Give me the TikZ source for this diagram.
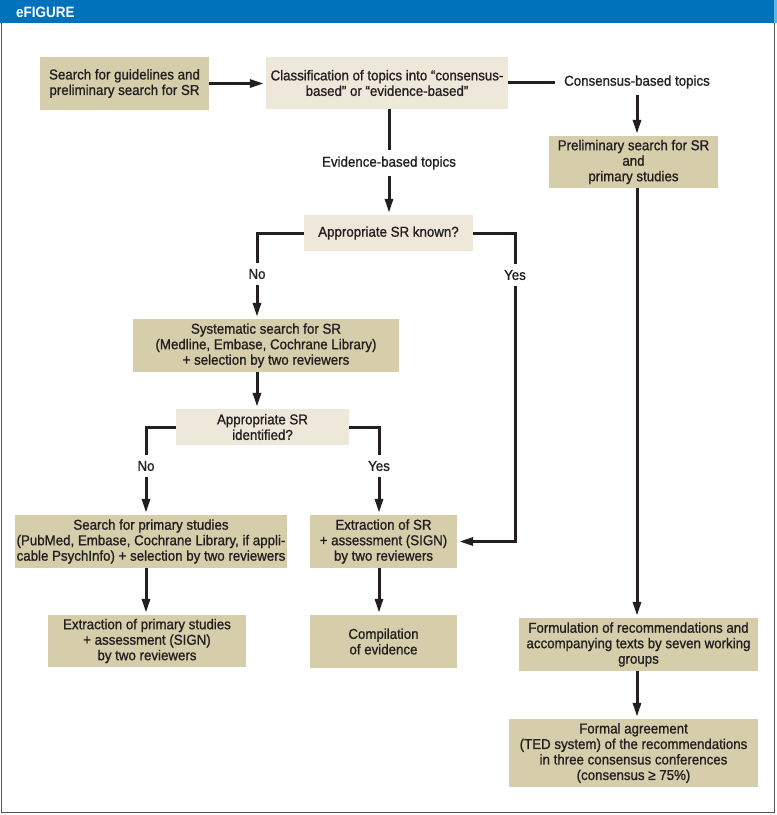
\documentclass[tikz,border=0pt]{standalone}
\usepackage{fontspec}
\setmainfont{Liberation Sans}
\newfontfamily\bodyfam[FakeBold=1.0,FakeStretch=0.93]{Liberation Sans}
\newfontfamily\hdrfont[FakeStretch=0.9]{Liberation Sans}
\usetikzlibrary{arrows.meta}
\definecolor{darkbox}{HTML}{D6CDAA}
\definecolor{lightbox}{HTML}{EEE8DA}
\definecolor{hblue}{HTML}{0072BB}
\definecolor{hlight}{HTML}{5DB7E6}
\definecolor{ink}{HTML}{231F20}
\definecolor{framegray}{HTML}{555555}
\newcommand{\bodyfont}{\bodyfam\fontsize{14.3}{15.5}\selectfont}
\begin{document}
\begin{tikzpicture}[x=1pt,y=-1pt,
  box/.style={fill=darkbox, inner sep=0pt, align=center, text=ink, font=\bodyfont},
  lbox/.style={fill=lightbox, inner sep=0pt, align=center, text=ink, font=\bodyfont},
  lbl/.style={inner xsep=9pt, inner ysep=6pt, align=center, text=ink, font=\bodyfont},
  conn/.style={draw=ink, line width=3pt},
  arr/.style={conn, -{Triangle[length=14pt,width=8pt]}, shorten >=2pt}]
\useasboundingbox (0,0) rectangle (777,815);
\fill[hblue] (0,0) rectangle (777,23);
\fill[hlight] (774,0) rectangle (777,23);
\draw[framegray, line width=1.5pt] (1.7,23) -- (1.7,812.5) -- (774.5,812.5) -- (774.5,23);
\node[anchor=west, text=white, font=\hdrfont\bfseries\fontsize{15}{15}\selectfont, inner sep=0pt] (hdr) at (16,12.5) {eFIGURE};

\node[box, minimum width=169, minimum height=53] (A) at (124.5,83.5) {Search for guidelines and\\preliminary search for SR};
\node[lbox, minimum width=242, minimum height=52] (B) at (387,83) {Classification of topics into “consensus-\\based” or “evidence-based”};
\node[box, minimum width=169, minimum height=52] (C) at (633.5,162) {Preliminary search for SR\\and\\primary studies};
\node[lbox, minimum width=169, minimum height=36] (D) at (388.5,233) {Appropriate SR known?};
\node[box, minimum width=266, minimum height=53] (E) at (266,345.5) {Systematic search for SR\\(Medline, Embase, Cochrane Library)\\+ selection by two reviewers};
\node[lbox, minimum width=173, minimum height=36] (H) at (262.5,427) {Appropriate SR\\identified?};
\node[box, minimum width=272, minimum height=53] (I) at (151,541.5) {Search for primary studies\\(PubMed, Embase, Cochrane Library, if appli-\\cable PsychInfo) + selection by two reviewers};
\node[box, minimum width=198, minimum height=52] (J) at (147,641) {Extraction of primary studies\\+ assessment (SIGN)\\by two reviewers};
\node[box, minimum width=147, minimum height=53] (K) at (383.5,541.5) {Extraction of SR\\+ assessment (SIGN)\\by two reviewers};
\node[box, minimum width=147, minimum height=53] (L) at (383.5,641.5) {Compilation\\of evidence};
\node[box, minimum width=239, minimum height=53] (F) at (638.5,644.5) {Formulation of recommendations and\\accompanying texts by seven working\\groups};
\node[box, minimum width=249, minimum height=68] (G) at (633.5,753) {Formal agreement\\(TED system) of the recommendations\\in three consensus conferences\\(consensus ≥ 75\%)};

\node[lbl] (cons) at (637,82) {Consensus-based topics};
\node[lbl] (evid) at (389,163) {Evidence-based topics};
\node[lbl] (no1) at (257,274) {No};
\node[lbl] (yes1) at (515,275) {Yes};
\node[lbl] (no2) at (146,466) {No};
\node[lbl] (yes2) at (379,466) {Yes};

\draw[arr] (A.east) -- (A.east -| B.west);
\draw[conn] (B.east |- cons) -- (cons.west);
\draw[arr] (cons.south) -- (cons.south |- C.north);
\draw[arr] (C.south -| cons) -- (F.north -| cons);
\draw[arr] (F.south -| cons) -- (G.north -| cons);
\draw[conn] (B.south -| evid) -- (evid.north);
\draw[arr] (evid.south) -- (D.north -| evid);
\draw[conn] (D.west) -| (no1.north);
\draw[arr] (no1.south) -- (no1.south |- E.north);
\draw[conn] (D.east) -| (yes1.north);
\draw[arr] (yes1.south) |- (K.east);
\draw[arr] (E.south -| no1) -- (H.north -| no1);
\draw[conn] (H.west) -| (no2.north);
\draw[arr] (no2.south) -- (no2.south |- I.north);
\draw[conn] (H.east) -| (yes2.north);
\draw[arr] (yes2.south) -- (yes2.south |- K.north);
\draw[arr] (I.south -| no2) -- (J.north -| no2);
\draw[arr] (K.south -| yes2) -- (L.north -| yes2);
\end{tikzpicture}
\end{document}
